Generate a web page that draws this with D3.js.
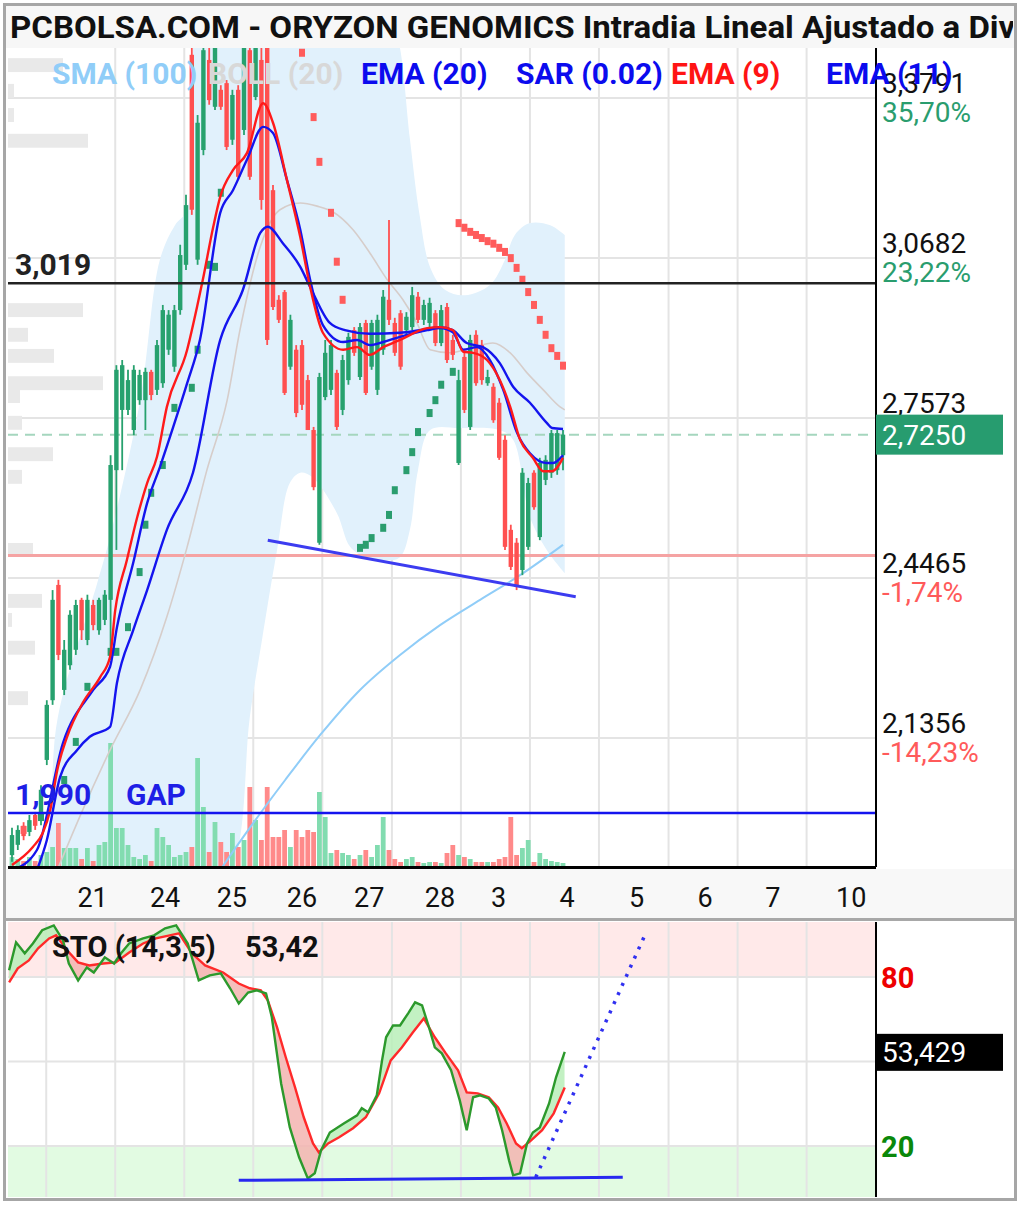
<!DOCTYPE html>
<html>
<head>
<meta charset="utf-8">
<script src="https://cdn.jsdelivr.net/npm/d3@7"></script>
<style>
  body { margin: 0; background: #fff; }
  svg { display: block; }
  text { font-family: Roboto, "Noto Sans", sans-serif; }
</style>
</head>
<body>
<div id="chart"></div>
<script>
// ORYZON GENOMICS intradia - precio, volumen y estocastico

const width = 1020, height = 1205;

// plot areas
const main = {left: 8, right: 876, top: 48, bottom: 867};
const sto = {left: 8, right: 876, top: 922, bottom: 1197};

// candles, one per bar (left to right)
const opens = [1.908,1.928,1.965,1.953,1.986,1.976,2.093,2.209,2.433,2.229,
  2.277,2.307,2.404,2.326,2.394,2.345,2.365,2.404,2.656,2.773,
  2.773,2.734,2.792,2.792,2.847,2.812,2.825,2.890,2.857,2.967,
  3.055,3.463,3.065,3.278,3.453,3.362,3.395,3.408,3.298,3.395,
  3.317,3.472,3.381,3.453,3.482,3.200,2.987,3.002,2.857,2.890,
  2.899,2.831,2.734,2.515,2.798,2.812,2.845,2.773,2.831,2.928,
  2.837,2.942,2.857,2.812,2.890,2.987,2.942,2.961,2.928,2.934,
  2.993,2.948,2.942,2.961,2.903,2.973,2.909,2.670,2.876,2.740,
  2.919,2.899,2.825,2.818,2.787,2.715,2.540,2.515,2.462,2.507,
  2.651,2.526,2.637,2.651,2.656,2.685];
const highs = [1.961,1.966,1.972,1.986,1.992,2.044,2.209,2.423,2.443,2.326,
  2.384,2.404,2.408,2.414,2.404,2.408,2.423,2.685,2.860,2.870,
  2.851,2.860,2.851,2.855,2.851,2.909,2.977,2.967,2.977,3.094,
  3.191,3.492,3.346,3.511,3.482,3.511,3.404,3.414,3.395,3.404,
  3.511,3.492,3.511,3.492,3.511,3.210,2.996,3.006,2.958,2.899,
  2.909,2.841,2.740,2.845,2.909,2.909,2.851,2.880,2.923,2.934,
  2.942,2.948,2.948,2.958,3.006,3.142,2.952,2.967,2.963,3.012,
  3.002,2.987,2.991,2.967,2.977,2.981,2.919,2.851,2.886,2.919,
  2.928,2.909,2.851,2.825,2.796,2.724,2.550,2.524,2.660,2.641,
  2.656,2.680,2.685,2.734,2.734,2.734];
const lows = [1.895,1.918,1.937,1.945,1.957,1.966,2.083,2.200,2.287,2.219,
  2.268,2.297,2.326,2.316,2.345,2.336,2.355,2.287,2.501,2.656,
  2.763,2.724,2.783,2.734,2.792,2.802,2.816,2.880,2.847,2.958,
  3.045,3.152,3.055,3.268,3.366,3.356,3.356,3.278,3.288,3.220,
  3.307,3.220,3.375,3.162,2.899,2.967,2.942,2.802,2.851,2.759,
  2.773,2.735,2.617,2.511,2.792,2.802,2.734,2.763,2.822,2.878,
  2.831,2.802,2.851,2.802,2.880,2.938,2.878,2.851,2.919,2.928,
  2.942,2.938,2.932,2.897,2.897,2.864,2.870,2.666,2.767,2.734,
  2.820,2.822,2.820,2.748,2.676,2.501,2.462,2.423,2.452,2.501,
  2.579,2.520,2.627,2.641,2.647,2.656];
const closes = [1.947,1.957,1.945,1.976,1.965,2.035,2.200,2.404,2.297,2.307,
  2.375,2.394,2.345,2.404,2.355,2.404,2.414,2.666,2.851,2.860,
  2.831,2.851,2.841,2.847,2.802,2.899,2.967,2.958,2.967,3.074,
  3.171,3.162,3.331,3.472,3.375,3.482,3.362,3.284,3.385,3.226,
  3.482,3.226,3.482,3.181,2.909,2.973,2.948,2.806,2.948,2.767,
  2.783,2.734,2.623,2.837,2.884,2.899,2.740,2.870,2.915,2.884,
  2.934,2.806,2.942,2.948,2.993,2.948,2.884,2.857,2.954,2.996,
  2.948,2.977,2.981,2.903,2.967,2.870,2.880,2.831,2.773,2.909,
  2.825,2.831,2.837,2.753,2.680,2.507,2.468,2.429,2.651,2.631,
  2.584,2.670,2.676,2.728,2.728,2.725];
const volumes = [10,8,6,10,6,12,15,20,44,19,
  19,19,8,19,6,22,25,124,39,39,
  22,10,8,12,6,39,30,22,10,12,
  15,20,109,60,15,45,25,15,34,20,
  27,80,47,27,80,30,30,37,20,37,
  30,37,35,75,50,14,17,14,12,8,
  12,17,10,22,50,17,8,5,8,10,
  5,4,5,5,4,14,22,12,10,8,
  5,5,5,5,8,10,50,12,19,27,
  5,14,8,6,5,4];

// right axis
const priceTicks = [3.3791, 3.0682, 2.7573, 2.4465, 2.1356];
const refPrice = 2.49;     // cierre anterior, base de los %
const lastPrice = 2.725;

// x axis: day labels and grid, in bar units
const dayLabels = ["21", "24", "25", "26", "27", "28", "3", "4", "5", "6", "7", "10"];
const dayPos = [13.9, 26.4, 37.9, 50, 61.6, 73.8, 83.9, 95.7, 107.7, 119.5, 131.2, 144.7];
const gridPos = [17.8, 29.7, 41.6, 53.5, 65.5, 77.4, 89.3, 101.2, 113.2, 125.1, 137.0];

// indicators as [bar, price]
const ema9 = [[0,1.889],[3.6,1.924],[5.3,1.951],[6.6,1.996],[7.8,2.073],[9.5,2.138],[12.2,2.204],[15.2,2.254],
  [16.9,2.293],[17.8,2.384],[19.8,2.481],[21.6,2.565],[23.3,2.631],[25,2.682],[26.7,2.779],[30.2,2.890],
  [31.9,2.973],[32.9,3.026],[34.7,3.129],[35.9,3.187],[38.1,3.239],[40.5,3.272],[43.3,3.369],[45,3.331],
  [47.4,3.220],[49.7,3.109],[51.4,3.012],[53.6,2.923],[57.1,2.890],[59.5,2.895],[61.7,2.880],[64,2.895],
  [66.9,2.909],[71.6,2.932],[73.8,2.934],[76,2.928],[77.8,2.886],[79.5,2.884],[81.9,2.870],[84.1,2.831],
  [85.9,2.779],[87.6,2.715],[89.8,2.680],[91.6,2.654],[93.1,2.654],[95,2.680]];
const ema11 = [[0.2,1.879],[4.3,1.918],[8.8,2.126],[14,2.229],[16.9,2.274],[18.1,2.351],[20.9,2.476],
  [23.3,2.592],[25.5,2.662],[27.8,2.740],[30.2,2.825],[32.4,2.909],[35.9,3.156],[38.1,3.200],[40.5,3.259],
  [43.3,3.323],[45,3.311],[47.4,3.220],[49.7,3.123],[51.4,3.026],[53.6,2.938],[57.1,2.905],[59.5,2.909],
  [61.7,2.899],[64,2.905],[66.9,2.915],[71.6,2.928],[73.8,2.932],[76,2.924],[77.8,2.890],[80.2,2.895],
  [82.4,2.870],[84.7,2.812],[87.1,2.728],[89.3,2.689],[92.2,2.670],[93.3,2.670],[95,2.685]];
const ema20 = [[4.3,1.879],[6,1.937],[8.3,2.060],[11.2,2.112],[13.4,2.138],[16.9,2.157],[18.1,2.243],
  [20.9,2.345],[23.3,2.423],[26.7,2.540],[31.2,2.651],[35.9,2.909],[39.8,3.006],[42.8,3.117],[44.1,3.129],
  [46.7,3.097],[49.7,3.051],[51.4,3.012],[54.8,2.942],[57.4,2.928],[61.7,2.921],[66.9,2.923],[70.3,2.928],
  [73.8,2.934],[76,2.928],[78.4,2.903],[81.2,2.895],[84.1,2.864],[86.4,2.818],[89.3,2.787],[92.2,2.748],
  [93.1,2.738],[95,2.736]];
const sma100 = [[33,1.83],[35.9,1.879],[42.6,1.986],[47.1,2.054],[53.1,2.141],[60,2.229],[66.9,2.297],
  [73.8,2.355],[80.7,2.404],[87.6,2.452],[95,2.511]];
const bollUp = [[0,1.80],[5.3,1.879],[7.9,2.176],[14.7,2.437],[16.9,2.526],[22.1,2.792],[25.5,3.065],
  [28.1,3.132],[30.2,3.162],[31.2,3.476],[32.4,3.570],[37.6,3.686],[49.7,3.725],[60,3.686],[65.2,3.550],
  [66.9,3.476],[68.6,3.300],[70.3,3.150],[72.1,3.050],[74.7,3.006],[78.1,2.996],[82.4,3.016],[85,3.065],
  [86.7,3.113],[89.3,3.136],[92.8,3.132],[95.3,3.113]];
const bollMid = [[7.8,1.879],[12.2,1.996],[16.9,2.112],[22.1,2.229],[26.7,2.371],[30.2,2.507],[33.6,2.656],
  [37.1,2.792],[39.3,2.928],[42.8,3.090],[46.2,3.162],[49.7,3.175],[52.6,3.169],[55.3,3.158],[58.8,3.123],
  [61.7,3.078],[64.7,3.026],[67.4,2.987],[69.8,2.942],[72.1,2.890],[75.5,2.884],[79.5,2.895],[82.9,2.903],
  [85.9,2.884],[88.8,2.845],[91.6,2.812],[94.5,2.779],[95.3,2.773]];
const bollLow = [[0,1.60],[29,1.70],[38.1,1.879],[41,2.176],[43.1,2.326],[45.7,2.501],[47.9,2.631],
  [49.7,2.651],[51.7,2.643],[56,2.573],[58.3,2.507],[60.9,2.487],[64.3,2.481],[66.9,2.487],[68.6,2.540],
  [70,2.656],[72.1,2.734],[77.2,2.738],[84.1,2.734],[86.4,2.715],[89.3,2.565],[92.2,2.501],[95.3,2.456]];
const sarPts = [[2,1.957],[5,1.982],[9,2.054],[11,2.128],[13,2.235],[17,2.303],[18,2.303],[20,2.351],
  [22,2.458],[23,2.550],[24,2.612],[26,2.666],[28,2.777],[31,2.816],[32,2.890],[34,3.055],[35,3.051],[36,3.195],
  [50,3.467],[52,3.342],[53,3.255],[55,3.156],[56,3.061],[57,2.987],
  [60,2.505],[61,2.511],[62,2.524],[64,2.544],[65,2.569],[66,2.617],[68,2.656],[69,2.691],[70,2.730],
  [72,2.767],[73,2.792],[74,2.822],[76,2.847],
  [77,3.136],[78,3.127],[79,3.119],[80,3.113],[81,3.107],[82,3.101],[83,3.096],[84,3.088],[85,3.080],
  [86,3.068],[87,3.049],[88,3.026],[89,3.002],[90,2.977],[91,2.948],[92,2.919],[93,2.893],[94,2.878],[95,2.859]];

// volume by price on the left edge: [price, volume]
const volProfile = [[3.443,55],[3.393,6],[3.346,6],[3.296,80],[2.967,75],[2.919,20],[2.878,46],[2.825,95],
  [2.800,12],[2.748,14],[2.687,45],[2.643,14],[2.501,25],[2.402,34],[2.365,4],[2.311,27],[2.213,20]];

// drawn levels
const resistance = 3.019;
const gapLevel = 1.990;
const trendLine = [[44.1, 2.520], [97.2, 2.410]];

// stochastic (14,3,5): [bar, value]
const stoK = [[-0.5,82.4],[0.7,92.3],[2.2,88.4],[3.6,91.9],[5.2,96.6],[7.2,98.3],[8.8,93],[9.8,84.8],
  [11.4,78.8],[12.9,83.4],[14.1,81.6],[16,87],[17.6,84.8],[18.8,88.4],[20.2,91.9],[22.6,93.7],[24.5,94.8],
  [26.4,97.3],[28.3,98.3],[30.3,91.9],[32.2,78.8],[34.1,80.6],[36,81.3],[37.6,76],[39.1,70.6],[40.7,74.5],
  [42.2,75.3],[43.8,74.2],[44.8,65.7],[46.4,42.2],[47.9,26.6],[49.5,16],[51,8.5],[52.2,10.3],[53.3,18.5],
  [54.8,24.8],[57.2,28],[59.5,30.9],[60.3,33.4],[61.4,32],[62.9,38],[63.8,50.4],[64.5,58.6],[65.7,62.8],
  [66.9,62.8],[68.3,67.1],[69.5,71],[70.7,69.9],[71.9,62.1],[72.9,55],[74.1,52.9],[75.7,46.9],[77.2,36.2],
  [78.4,25.6],[79.5,37.3],[80.7,38],[82.2,36.9],[83.4,33.7],[84.5,25.6],[85.7,14.9],[86.4,9.6],[87.6,10.3],
  [88.8,20.9],[89.8,24.8],[91,26.6],[92.6,35.1],[93.8,44.4],[95.3,53.4]];
const stoD = [[-0.5,78.1],[1,83.1],[2.9,85.9],[4.5,90.2],[6.4,93.7],[7.6,94.8],[9.5,89.5],[11.4,85.2],
  [13.3,84.1],[15.7,84.8],[17.9,85.2],[20.2,88.7],[22.6,91.9],[24.8,93.7],[27.2,94.8],[28.8,95.5],[31,88.4],
  [33.3,84.1],[36.4,81.6],[39.1,77.7],[41,76],[42.9,75.3],[44.1,71.7],[45.7,62.1],[47.2,51.5],[48.8,40.8],
  [50.3,30.2],[51.9,20.9],[52.9,17.7],[54.5,20.9],[56.4,23.1],[58.8,26.3],[61,30.2],[63.3,38.7],[65.3,50.4],
  [67.2,55],[69.1,60.3],[71,65.3],[72.9,58.6],[74.8,52.9],[76.9,46.9],[78.4,39],[80.3,38.7],[82.2,37.3],
  [83.8,33.7],[85.3,28],[86.9,20.9],[87.9,19.2],[89.5,22],[91.4,25.6],[93.4,31.6],[95.3,40.8]];
const stoLevels = [80, 50, 20];
const stoLast = 53.429;
const stoSupport = [[39.1, 7.8], [105.3, 8.9]];
const stoProjection = [[90.3, 8.9], [109.1, 94.8]];

// legend
const legendNames = ["SMA (100)", "BOLL (20)", "EMA (20)", "SAR (0.02)", "EMA (9)", "EMA (11)"];
const legendColors = ["#90cdf8", "#d8d8d8", "#0b0bee", "#0b0bee", "#ff1414", "#0b0bee"];
const legendX = [52, 208, 361, 516, 671, 826];

// colours
const green = "#27a16e", red = "#ff5050";
const volGreen = "#82dcb0", volRed = "#ff8a8a";
const blue = "#1414ee";

// scales
const x = d3.scaleLinear().domain([0, 95]).range([12, 563]);
const y = d3.scaleLinear().domain([2.1356, 3.3791]).range([738, 98]);
const yVol = d3.scaleLinear().domain([0, 130]).range([main.bottom, main.bottom - 130]);
const ySto = d3.scaleLinear().domain([20, 80]).range([1146, 977]);

const fmt = (v, d) => v.toFixed(d).replace(".", ",");
const pct = p => {
  const v = Math.trunc((p / refPrice - 1) * 10000) / 100;
  return fmt(v, 2) + "%";
};

let svg = d3.select("#chart")
  .append("svg")
    .attr("width", width)
    .attr("height", height);

const defs = svg.append("defs");
defs.append("clipPath").attr("id", "clipMain")
  .append("rect").attr("x", main.left).attr("y", main.top)
  .attr("width", main.right - main.left).attr("height", main.bottom - main.top);
defs.append("clipPath").attr("id", "clipSto")
  .append("rect").attr("x", sto.left).attr("y", sto.top)
  .attr("width", sto.right - sto.left).attr("height", sto.bottom - sto.top);
defs.append("clipPath").attr("id", "clipTitle")
  .append("rect").attr("x", 6).attr("y", 6).attr("width", 1007).attr("height", 42);

// backgrounds
svg.append("rect").attr("width", width).attr("height", height).attr("fill", "#fff");
svg.append("rect").attr("x", 6).attr("y", 6).attr("width", 1008).attr("height", 42).attr("fill", "#f7f7f7");
svg.append("rect").attr("x", 6).attr("y", main.bottom + 2).attr("width", 1008).attr("height", 49).attr("fill", "#f8f8f8");

// title, squeezed so "Div" lands on the right edge
const titleText = "PCBOLSA.COM - ORYZON GENOMICS Intradia Lineal Ajustado a Dividendos";
const title = svg.append("g").attr("clip-path", "url(#clipTitle)")
  .append("text")
    .attr("font-size", 31)
    .attr("font-weight", "bold")
    .attr("fill", "#111")
    .text(titleText);
const prefixW = title.node().getSubStringLength(0, titleText.indexOf("Div"));
title.attr("transform", `translate(10,38) scale(${959 / prefixW},1)`);

// ---------- main price panel ----------
const g = svg.append("g").attr("clip-path", "url(#clipMain)");

// grid
g.selectAll("hgrid").data(priceTicks).join("line")
  .attr("x1", main.left).attr("x2", main.right)
  .attr("y1", d => y(d)).attr("y2", d => y(d))
  .attr("stroke", "#e4e4e4").attr("stroke-width", 2);
g.selectAll("vgrid").data(gridPos).join("line")
  .attr("x1", d => x(d)).attr("x2", d => x(d))
  .attr("y1", main.top).attr("y2", main.bottom)
  .attr("stroke", "#e4e4e4").attr("stroke-width", 2);

// volume profile
g.selectAll("vprof").data(volProfile).join("rect")
  .attr("x", main.left)
  .attr("y", d => y(d[0] + 0.0135))
  .attr("width", d => d[1])
  .attr("height", d => y(d[0] - 0.0135) - y(d[0] + 0.0135))
  .attr("fill", "#e9e9e9");

// bollinger band fill
const bandLine = d3.line().x(d => x(d[0])).y(d => y(d[1])).curve(d3.curveCatmullRom);
const bandPath = bandLine(bollUp) + "L" + bandLine(bollLow.slice().reverse()).slice(1) + "Z";
g.append("path").attr("d", bandPath).attr("fill", "#e1f1fc");

// previous close and last price
g.append("line")
  .attr("x1", main.left).attr("x2", main.right)
  .attr("y1", y(refPrice)).attr("y2", y(refPrice))
  .attr("stroke", "#f5a3a3").attr("stroke-width", 3);
g.append("line")
  .attr("x1", main.left).attr("x2", main.right)
  .attr("y1", y(lastPrice)).attr("y2", y(lastPrice))
  .attr("stroke", "#a5d6be").attr("stroke-width", 2).attr("stroke-dasharray", "10,7");

// bars data
const bars = d3.range(opens.length).map(i => ({
  i, o: opens[i], h: highs[i], l: lows[i], c: closes[i], v: volumes[i], up: closes[i] >= opens[i]
}));

// volume
g.selectAll("vol").data(bars).join("rect")
  .attr("x", d => x(d.i) - 2.4)
  .attr("y", d => yVol(d.v))
  .attr("width", 4.8)
  .attr("height", d => main.bottom - yVol(d.v))
  .attr("fill", d => d.up ? volGreen : volRed);

// bollinger middle and sma 100
const lineGen = d3.line().x(d => x(d[0])).y(d => y(d[1])).curve(d3.curveMonotoneX);
g.append("path").attr("d", lineGen(bollMid))
  .attr("fill", "none").attr("stroke", "#d6cdca").attr("stroke-width", 1.6);
g.append("path").attr("d", lineGen(sma100))
  .attr("fill", "none").attr("stroke", "#90cdf8").attr("stroke-width", 2);

// candles
g.selectAll("wick").data(bars).join("line")
  .attr("x1", d => x(d.i)).attr("x2", d => x(d.i))
  .attr("y1", d => y(d.h)).attr("y2", d => y(d.l))
  .attr("stroke", d => d.up ? green : red).attr("stroke-width", 1.8);
g.selectAll("body").data(bars).join("rect")
  .attr("x", d => x(d.i) - 2.2)
  .attr("y", d => y(Math.max(d.o, d.c)))
  .attr("width", 4.4)
  .attr("height", d => Math.max(2, Math.abs(y(d.o) - y(d.c))))
  .attr("fill", d => d.up ? green : red);

// parabolic SAR
g.selectAll("sar").data(sarPts).join("rect")
  .attr("x", d => x(d[0]) - 3)
  .attr("y", d => y(d[1]) - 4)
  .attr("width", 6).attr("height", 8)
  .attr("fill", d => d[1] > closes[d[0]] ? "#ff5c5c" : "#2a9d6e");

// moving averages
g.append("path").attr("d", lineGen(ema20))
  .attr("fill", "none").attr("stroke", blue).attr("stroke-width", 2.4);
g.append("path").attr("d", lineGen(ema11))
  .attr("fill", "none").attr("stroke", blue).attr("stroke-width", 2.4);
g.append("path").attr("d", lineGen(ema9))
  .attr("fill", "none").attr("stroke", "#ff1a1a").attr("stroke-width", 2.4);

// levels and trend line
g.append("line")
  .attr("x1", main.left).attr("x2", main.right)
  .attr("y1", y(resistance)).attr("y2", y(resistance))
  .attr("stroke", "#222").attr("stroke-width", 2.5);
g.append("line")
  .attr("x1", main.left).attr("x2", main.right)
  .attr("y1", y(gapLevel)).attr("y2", y(gapLevel))
  .attr("stroke", blue).attr("stroke-width", 2.5);
g.append("path").attr("d", d3.line().x(d => x(d[0])).y(d => y(d[1]))(trendLine))
  .attr("stroke", "#3c3cf0").attr("stroke-width", 3).attr("fill", "none");

g.append("text")
  .attr("x", 15).attr("y", y(resistance) - 8)
  .attr("font-size", 30).attr("font-weight", "bold").attr("fill", "#222")
  .text(fmt(resistance, 3));
g.append("text")
  .attr("x", 15).attr("y", y(gapLevel) - 8)
  .attr("font-size", 30).attr("font-weight", "bold").attr("fill", "#1e1ee6")
  .text(fmt(gapLevel, 3));
g.append("text")
  .attr("x", 126).attr("y", y(gapLevel) - 8)
  .attr("font-size", 30).attr("font-weight", "bold").attr("fill", "#1e1ee6")
  .text("GAP");

// axes lines
svg.append("line")
  .attr("x1", main.left).attr("x2", main.right)
  .attr("y1", main.bottom + 0.5).attr("y2", main.bottom + 0.5)
  .attr("stroke", "#000").attr("stroke-width", 3);
svg.append("line")
  .attr("x1", main.right).attr("x2", main.right)
  .attr("y1", main.top).attr("y2", main.bottom)
  .attr("stroke", "#000").attr("stroke-width", 2);

// right axis labels (the % of the tick under the price box is hidden, as on the source)
svg.selectAll("ptick").data(priceTicks).join("text")
  .attr("x", 882).attr("y", d => y(d) - 5)
  .attr("font-size", 28).attr("fill", "#111")
  .text(d => fmt(d, 4));
svg.selectAll("pct").data(priceTicks.filter(d => Math.abs(y(d) - y(lastPrice)) > 40)).join("text")
  .attr("x", 882).attr("y", d => y(d) + 24)
  .attr("font-size", 28)
  .attr("fill", d => d >= refPrice ? "#2a9d6e" : "#ff5a5a")
  .text(d => pct(d));

// last price box
svg.append("rect")
  .attr("x", main.right).attr("y", y(lastPrice) - 20)
  .attr("width", 127).attr("height", 40)
  .attr("fill", "#279c6f");
svg.append("text")
  .attr("x", 882).attr("y", y(lastPrice) + 10)
  .attr("font-size", 28).attr("fill", "#fff")
  .text(fmt(lastPrice, 4));

// legend
svg.selectAll("legend").data(legendNames).join("text")
  .attr("x", (d, i) => legendX[i]).attr("y", 84)
  .attr("font-size", 30).attr("font-weight", "bold")
  .attr("fill", (d, i) => legendColors[i])
  .text(d => d);

// x axis labels
svg.selectAll("day").data(dayLabels).join("text")
  .attr("x", (d, i) => x(dayPos[i])).attr("y", 907)
  .attr("text-anchor", "middle")
  .attr("font-size", 27).attr("fill", "#111")
  .text(d => d);

// panel separator
svg.append("line")
  .attr("x1", 4).attr("x2", 1016).attr("y1", 919.5).attr("y2", 919.5)
  .attr("stroke", "#a8a8a8").attr("stroke-width", 3);

// ---------- stochastic panel ----------
const s = svg.append("g").attr("clip-path", "url(#clipSto)");

s.append("rect")
  .attr("x", sto.left).attr("y", sto.top)
  .attr("width", sto.right - sto.left).attr("height", ySto(80) - sto.top)
  .attr("fill", "#ffe9e9");
s.append("rect")
  .attr("x", sto.left).attr("y", ySto(20))
  .attr("width", sto.right - sto.left).attr("height", sto.bottom - ySto(20))
  .attr("fill", "#e2fbe2");

s.selectAll("shgrid").data(stoLevels).join("line")
  .attr("x1", sto.left).attr("x2", sto.right)
  .attr("y1", d => ySto(d)).attr("y2", d => ySto(d))
  .attr("stroke", "#e4e4e4").attr("stroke-width", 2);
s.selectAll("svgrid").data([5.9].concat(gridPos)).join("line")
  .attr("x1", d => x(d)).attr("x2", d => x(d))
  .attr("y1", sto.top).attr("y2", sto.bottom)
  .attr("stroke", "#e4e4e4").attr("stroke-width", 2);

// fill between %K and %D: green where K is above, pink where below
const belowArea = d3.area().x(d => x(d[0])).y0(sto.bottom + 20).y1(d => ySto(d[1]));
const aboveArea = d3.area().x(d => x(d[0])).y0(sto.top - 20).y1(d => ySto(d[1]));
defs.append("clipPath").attr("id", "aboveD").append("path").attr("d", aboveArea(stoD));
defs.append("clipPath").attr("id", "aboveK").append("path").attr("d", aboveArea(stoK));
s.append("path").attr("d", belowArea(stoK))
  .attr("clip-path", "url(#aboveD)").attr("fill", "#b9efb9").attr("opacity", 0.85);
s.append("path").attr("d", belowArea(stoD))
  .attr("clip-path", "url(#aboveK)").attr("fill", "#f3b4b0").attr("opacity", 0.85);

const stoLine = d3.line().x(d => x(d[0])).y(d => ySto(d[1]));
s.append("path").attr("d", stoLine(stoD))
  .attr("fill", "none").attr("stroke", "#ff2a2a").attr("stroke-width", 2.4);
s.append("path").attr("d", stoLine(stoK))
  .attr("fill", "none").attr("stroke", "#2c992c").attr("stroke-width", 2.4);

// drawn lines on the oscillator
s.append("path").attr("d", stoLine(stoSupport))
  .attr("fill", "none").attr("stroke", "#2828f0").attr("stroke-width", 3);
s.append("path").attr("d", stoLine(stoProjection))
  .attr("fill", "none").attr("stroke", "#3030f0").attr("stroke-width", 3.5)
  .attr("stroke-dasharray", "3,7");

s.append("text")
  .attr("x", 52).attr("y", 957)
  .attr("font-size", 29).attr("font-weight", "bold").attr("fill", "#111")
  .text("STO (14,3,5)");
s.append("text")
  .attr("x", 245).attr("y", 957)
  .attr("font-size", 29).attr("font-weight", "bold").attr("fill", "#111")
  .text(fmt(Math.trunc(stoLast * 100) / 100, 2));

svg.append("line")
  .attr("x1", sto.right).attr("x2", sto.right)
  .attr("y1", sto.top).attr("y2", sto.bottom)
  .attr("stroke", "#000").attr("stroke-width", 2);

// oscillator axis
svg.append("text")
  .attr("x", 881).attr("y", ySto(80) + 11)
  .attr("font-size", 29).attr("font-weight", "bold").attr("fill", "#ee0000")
  .text("80");
svg.append("text")
  .attr("x", 881).attr("y", ySto(20) + 11)
  .attr("font-size", 29).attr("font-weight", "bold").attr("fill", "#0a880a")
  .text("20");
svg.append("rect")
  .attr("x", sto.right).attr("y", ySto(stoLast) - 18)
  .attr("width", 127).attr("height", 37)
  .attr("fill", "#000");
svg.append("text")
  .attr("x", 882).attr("y", ySto(stoLast) + 10)
  .attr("font-size", 28).attr("fill", "#fff")
  .text(fmt(stoLast, 3));

// outer frame
svg.append("rect")
  .attr("x", 4.5).attr("y", 4.5)
  .attr("width", 1011).attr("height", 1195)
  .attr("fill", "none").attr("stroke", "#a6a6a6").attr("stroke-width", 3);
</script>
</body>
</html>
